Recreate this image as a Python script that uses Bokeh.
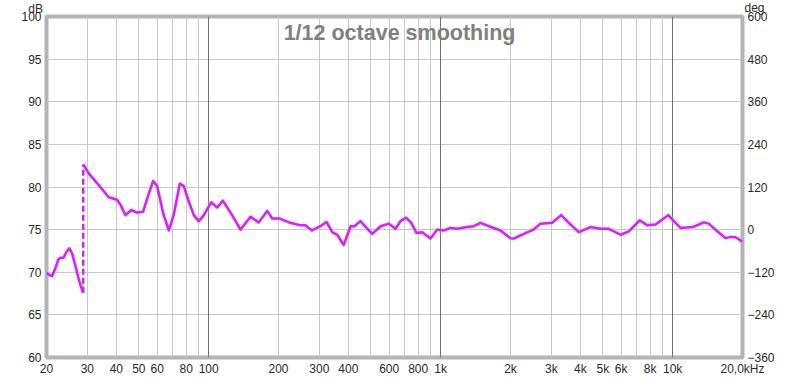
from bokeh.plotting import figure
from bokeh.models import Range1d, LinearAxis, FixedTicker, Grid, Label
from bokeh.embed import file_html
from bokeh.resources import INLINE

# ---- data ----
freq_low = [20, 20.5, 21.15, 21.8, 22.5, 23.0, 23.7, 24.4, 25.1, 25.8, 26.5, 27.3, 28.0, 28.8]
db_low = [69.95, 69.7, 69.55, 70.4, 71.5, 71.7, 71.7, 72.4, 72.8, 72.2, 71.0, 69.6, 68.5, 67.6]

freq_main = [28.8, 30.4, 33.6, 37.1, 40.3, 41.7, 43.8, 46.3, 49.2, 52.2, 54.7, 57.7, 60.0,
             63.7, 67.3, 70.7, 75.1, 78.1, 82.1, 86.3, 90.7, 95.3, 102.6, 108.9, 115.1,
             126.3, 137.2, 151.5, 164.5, 178.8, 187.9, 202.6, 225, 249, 261, 279, 303, 322,
             341, 358, 382, 409, 425, 451, 479, 507, 551, 598, 639, 671, 710, 747, 787,
             833, 904, 966, 1032, 1103, 1178, 1301, 1390, 1485, 1612, 1811, 2000, 2066,
             2320, 2514, 2694, 3025, 3308, 3568, 3940, 4425, 4886, 5306, 5960, 6470, 7216,
             7768, 8434, 9572, 10120, 10810, 12200, 13620, 14310, 15560, 16900, 17770,
             18660, 20000]
db_main = [82.65, 81.6, 80.2, 78.8, 78.5, 77.9, 76.7, 77.3, 77.0, 77.1, 78.9, 80.7, 80.1,
           76.9, 74.9, 76.7, 80.4, 80.1, 78.3, 76.7, 76.0, 76.7, 78.2, 77.6, 78.4,
           76.7, 75.0, 76.5, 75.85, 77.2, 76.3, 76.3, 75.8, 75.5, 75.5, 74.9, 75.4, 75.9,
           74.7, 74.4, 73.2, 75.4, 75.4, 76.0, 75.2, 74.5, 75.4, 75.7, 75.1, 76.0, 76.4, 75.8, 74.6,
           74.7, 73.95, 75.0, 74.9, 75.2, 75.1, 75.3, 75.4, 75.8, 75.4, 74.9, 74.0, 73.95,
           74.6, 75.0, 75.7, 75.8, 76.7, 75.8, 74.7, 75.3, 75.1, 75.1, 74.4, 74.8, 76.1,
           75.5, 75.6, 76.7, 76.0, 75.2, 75.3, 75.85, 75.7, 74.8, 74.0, 74.15,
           74.1, 73.6]

gap_freq = [28.8, 28.8]
gap_db = [67.6, 82.65]

x_label_ticks = [20, 30, 40, 50, 60, 80, 100, 200, 300, 400, 600, 800,
                 1000, 2000, 3000, 4000, 5000, 6000, 8000, 10000, 20000]
x_label_texts = ["20", "30", "40", "50", "60", "80", "100", "200", "300", "400", "600", "800",
                 "1k", "2k", "3k", "4k", "5k", "6k", "8k", "10k", "20,0kHz"]
x_grid_ticks = [20, 30, 40, 50, 60, 70, 80, 90, 200, 300, 400, 500, 600, 700, 800, 900,
                2000, 3000, 4000, 5000, 6000, 7000, 8000, 9000]
x_decade_ticks = [100, 1000, 10000]
db_ticks = [60, 65, 70, 75, 80, 85, 90, 95, 100]
deg_ticks = [-360, -240, -120, 0, 120, 240, 360, 480, 600]

title_text = "1/12 octave smoothing"

FONT = "Liberation Sans"
TXT = "#2a2a2a"

p = figure(width=800, height=378, x_axis_type="log",
           x_range=Range1d(20, 20000), y_range=Range1d(60, 100),
           output_backend="svg", toolbar_location=None,
           min_border_left=46, min_border_right=58, min_border_top=16, min_border_bottom=20)

p.background_fill_color = "white"
p.border_fill_color = "white"
p.outline_line_color = "#b4b4b4"
p.outline_line_width = 4

# x axis
xa = p.xaxis[0]
xa.ticker = FixedTicker(ticks=x_label_ticks)
xa.major_label_overrides = {t: s for t, s in zip(x_label_ticks, x_label_texts)}
xa.axis_line_color = None
xa.major_tick_line_color = None
xa.minor_tick_line_color = None
xa.major_tick_out = 0
xa.major_label_standoff = 4
xa.major_label_text_font = FONT
xa.major_label_text_font_size = "12px"
xa.major_label_text_color = TXT

# left y axis
ya = p.yaxis[0]
ya.ticker = FixedTicker(ticks=db_ticks)
ya.axis_line_color = None
ya.major_tick_line_color = None
ya.minor_tick_line_color = None
ya.major_tick_out = 0
ya.major_label_standoff = 5
ya.major_label_text_font = FONT
ya.major_label_text_font_size = "12px"
ya.major_label_text_color = TXT

# right axis (deg)
p.extra_y_ranges = {"deg": Range1d(-360, 600)}
ra = LinearAxis(y_range_name="deg", ticker=FixedTicker(ticks=deg_ticks))
ra.axis_line_color = None
ra.major_tick_line_color = None
ra.minor_tick_line_color = None
ra.major_tick_out = 0
ra.major_label_standoff = 5
ra.major_label_text_font = FONT
ra.major_label_text_font_size = "12px"
ra.major_label_text_color = TXT
p.add_layout(ra, "right")

# grids
p.xgrid.ticker = FixedTicker(ticks=x_grid_ticks)
p.xgrid.grid_line_color = "#c8c8c8"
p.ygrid.ticker = FixedTicker(ticks=db_ticks)
p.ygrid.grid_line_color = "#c8c8c8"
p.add_layout(Grid(dimension=0, ticker=FixedTicker(ticks=x_decade_ticks),
                  grid_line_color="#707070"))

# curve (glow + line)
GLOW = "#eab0f6"
p.line(freq_low, db_low, line_width=6, color=GLOW, alpha=0.3)
p.line(freq_main, db_main, line_width=6, color=GLOW, alpha=0.3)
LINE = "#c22ee0"
p.line(freq_low, db_low, line_width=2.5, color=LINE, line_join="round")
p.line(freq_main, db_main, line_width=2.5, color=LINE, line_join="round")
p.line(gap_freq, gap_db, line_width=2.5, color=LINE, line_dash="6 3")

# texts
p.add_layout(Label(x=665, y=98.1, text=title_text, text_align="center",
                   text_baseline="alphabetic", text_font=FONT, text_font_style="bold",
                   text_font_size="21.5px", text_color="#808080"))
# unit labels live in the side panels so they are not clipped to the frame
p.add_layout(Label(x=19.3, y=100.85, text="dB", text_align="right",
                   text_baseline="alphabetic", text_font=FONT,
                   text_font_size="12px", text_color=TXT), "left")
p.add_layout(Label(x=20400, y=101.0, text="deg", text_align="left",
                   text_baseline="alphabetic", text_font=FONT,
                   text_font_size="12px", text_color=TXT), "right")

open("out.html", "w").write(file_html(p, INLINE))
